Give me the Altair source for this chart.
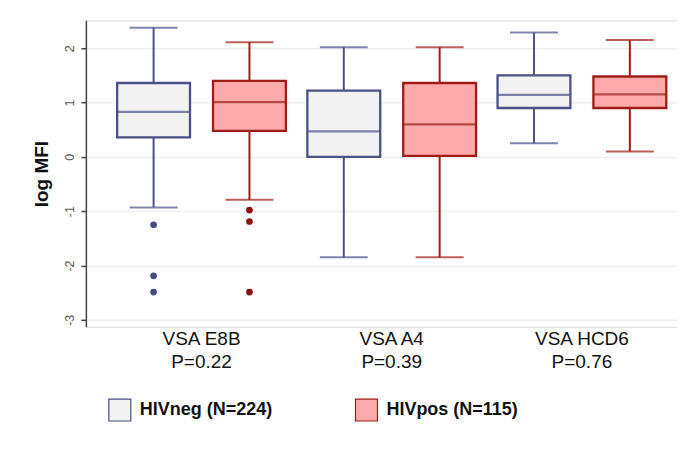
import altair as alt
import pandas as pd

# ---- data ----
antigens = ["VSA E8B", "VSA A4", "VSA HCD6"]
pvalues = ["P=0.22", "P=0.39", "P=0.76"]
groups = ["HIVneg (N=224)", "HIVpos (N=115)"]

# per antigen, per group: lower whisker, q1, median, q3, upper whisker
neg_lower = [-0.93, -1.85, 0.25]
neg_q1 = [0.36, 0.00, 0.90]
neg_median = [0.83, 0.47, 1.14]
neg_q3 = [1.36, 1.22, 1.50]
neg_upper = [2.38, 2.02, 2.29]

pos_lower = [-0.79, -1.85, 0.10]
pos_q1 = [0.48, 0.02, 0.90]
pos_median = [1.01, 0.60, 1.15]
pos_q3 = [1.40, 1.36, 1.48]
pos_upper = [2.11, 2.02, 2.15]

neg_outliers_antigen = ["VSA E8B", "VSA E8B", "VSA E8B"]
neg_outliers = [-1.25, -2.19, -2.49]
pos_outliers_antigen = ["VSA E8B", "VSA E8B", "VSA E8B"]
pos_outliers = [-0.98, -1.19, -2.49]

fills = ["#f2f2f2", "#ffaaaa"]
strokes = ["#4b5089", "#9e1c18"]

# ---- tables ----
rows = []
for i, a in enumerate(antigens):
    lab = f"{a}|{pvalues[i]}"
    rows.append(dict(antigen=lab, group=groups[0], lower=neg_lower[i], q1=neg_q1[i],
                     median=neg_median[i], q3=neg_q3[i], upper=neg_upper[i]))
    rows.append(dict(antigen=lab, group=groups[1], lower=pos_lower[i], q1=pos_q1[i],
                     median=pos_median[i], q3=pos_q3[i], upper=pos_upper[i]))
box = pd.DataFrame(rows)

lab_of = {a: f"{a}|{p}" for a, p in zip(antigens, pvalues)}
out_rows = [dict(antigen=lab_of[a], group=groups[0], value=v) for a, v in zip(neg_outliers_antigen, neg_outliers)]
out_rows += [dict(antigen=lab_of[a], group=groups[1], value=v) for a, v in zip(pos_outliers_antigen, pos_outliers)]
outl = pd.DataFrame(out_rows)

order = [lab_of[a] for a in antigens]

x_enc = alt.X(
    "antigen:N",
    sort=order,
    scale=alt.Scale(paddingInner=0, paddingOuter=0.054, align=1),
    axis=alt.Axis(
        title=None, domain=False, ticks=False, labelAngle=0,
        labelExpr="split(datum.label, '|')",
        labelFont="Liberation Sans", labelFontSize=19, labelColor="#111",
        labelPadding=3, labelLineHeight=23, labelLimit=300,
    ),
)
xoff = alt.XOffset("group:N", sort=groups, scale=alt.Scale(paddingInner=0.24, paddingOuter=0.112))

y_scale = alt.Scale(domain=[-3.13, 2.515], nice=False, zero=False)
y_axis = alt.Axis(
    title="log MFI", titleFont="Liberation Sans", titleFontSize=19, titleFontWeight="bold",
    titleColor="#111", titlePadding=12, labelExpr="'' + datum.value",
    values=[-3, -2, -1, 0, 1, 2], labelAngle=270, labelAlign="center", labelBaseline="bottom",
    labelFont="Liberation Sans", labelFontSize=12.5, labelColor="#555", labelPadding=4,
    domainColor="#444", domainWidth=1.5, tickColor="#444", tickSize=5, tickWidth=1.5,
    grid=True, gridColor="#efefef", gridWidth=1.5,
)

stroke_scale = alt.Scale(domain=groups, range=strokes)
fill_scale = alt.Scale(domain=groups, range=fills)

base = alt.Chart(box)

whisk_lo = base.mark_rule(strokeWidth=2).encode(
    x=x_enc, xOffset=xoff,
    y=alt.Y("lower:Q", scale=y_scale, axis=y_axis),
    y2="q1:Q",
    color=alt.Color("group:N", scale=stroke_scale, legend=None),
)
whisk_hi = base.mark_rule(strokeWidth=2).encode(
    x=x_enc, xOffset=xoff,
    y=alt.Y("q3:Q", scale=y_scale),
    y2="upper:Q",
    color=alt.Color("group:N", scale=stroke_scale, legend=None),
)
cap_lo = base.mark_tick(size=48, thickness=2).encode(
    x=x_enc, xOffset=xoff,
    y=alt.Y("lower:Q", scale=y_scale),
    color=alt.Color("group:N", scale=stroke_scale, legend=None),
)
cap_hi = base.mark_tick(size=48, thickness=2).encode(
    x=x_enc, xOffset=xoff,
    y=alt.Y("upper:Q", scale=y_scale),
    color=alt.Color("group:N", scale=stroke_scale, legend=None),
)
boxes = base.mark_bar(strokeWidth=2.3).encode(
    x=x_enc, xOffset=xoff,
    y=alt.Y("q1:Q", scale=y_scale),
    y2="q3:Q",
    fill=alt.Fill("group:N", scale=fill_scale, legend=alt.Legend(
        title=None, orient="none", legendX=22, legendY=378, direction="horizontal",
        symbolType="square", symbolSize=484, symbolStrokeColor="#555", symbolStrokeWidth=1.2,
        symbolOpacity=1, labelFont="Liberation Sans", labelFontSize=18, labelFontWeight="bold",
        labelColor="#111", labelOffset=8, columnPadding=80, padding=0, labelLimit=300,
    )),
    stroke=alt.Stroke("group:N", scale=stroke_scale, legend=None),
)
medians = base.mark_tick(size=73, thickness=2.3).encode(
    x=x_enc, xOffset=xoff,
    y=alt.Y("median:Q", scale=y_scale),
    color=alt.Color("group:N", scale=stroke_scale, legend=None),
)
points = alt.Chart(outl).mark_circle(size=45, opacity=1).encode(
    x=x_enc, xOffset=xoff,
    y=alt.Y("value:Q", scale=y_scale),
    color=alt.Color("group:N", scale=alt.Scale(domain=groups, range=["#464a82", "#8c1010"]), legend=None),
)

chart = alt.layer(whisk_lo, whisk_hi, cap_lo, cap_hi, boxes, medians, points).resolve_scale(
    color="independent"
).properties(
    width=592, height=307,
    autosize=alt.AutoSizeParams(type="none"),
    padding={"left": 78, "top": 12, "right": 0, "bottom": 110},
).configure_view(stroke=None).configure(background="white")

chart.save("out.html", embed_options={"renderer": "svg", "actions": False})
